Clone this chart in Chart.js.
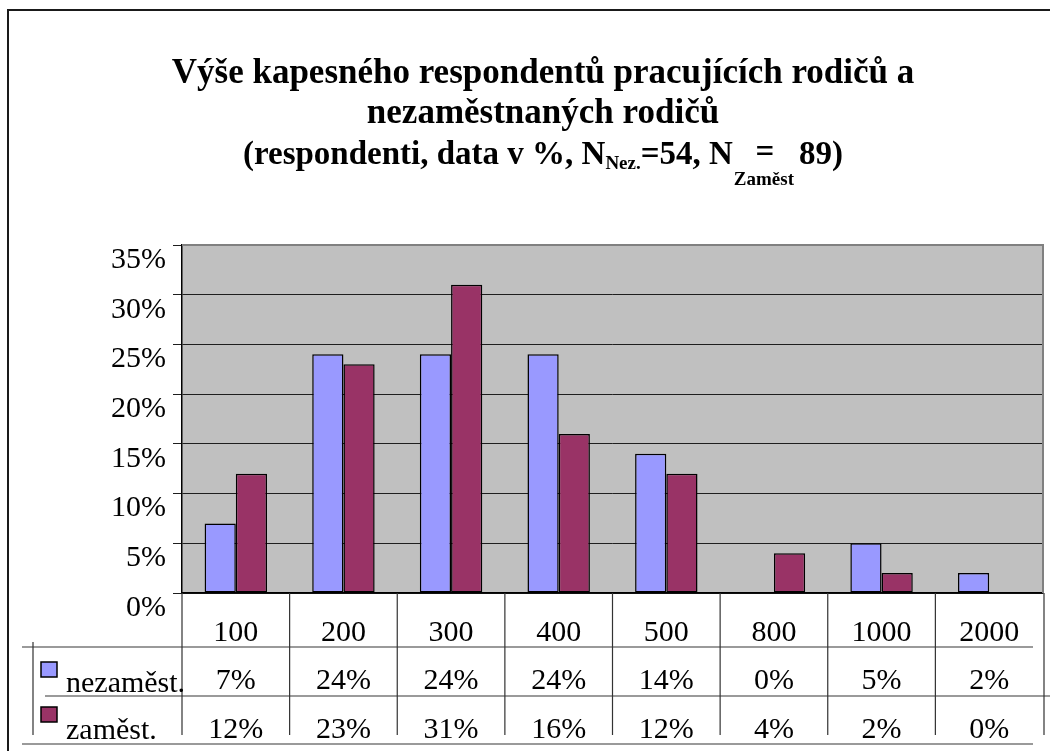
<!DOCTYPE html>
<html>
<head>
<meta charset="utf-8">
<script src="https://cdn.jsdelivr.net/npm/chart.js@4.4.1/dist/chart.umd.min.js"></script>
<style>
  html, body { margin: 0; padding: 0; background: #fff; overflow: hidden; }
  canvas { display: block; }
</style>
</head>
<body>
<canvas id="chartKapesne" width="1050" height="751"></canvas>
<script>
/* ---------- Data ---------- */
const categories = ['100', '200', '300', '400', '500', '800', '1000', '2000'];
const nezamest = [7, 24, 24, 24, 14, 0, 5, 2];     // % nezaměstnaní rodiče
const zamest   = [12, 23, 31, 16, 12, 4, 2, 0];    // % zaměstnaní rodiče
const seriesNames = ['nezaměst.', 'zaměst.'];
const yTicks = [0, 5, 10, 15, 20, 25, 30, 35];

const SERIF = "'Liberation Serif', 'Times New Roman', serif";
const COL_NEZ = '#9999ff';
const COL_ZAM = '#993366';

/* ---------- Plot background, frame and titles ---------- */
const decorPlugin = {
    id: 'decor',
    beforeDraw(chart) {
        const { ctx, chartArea: a } = chart;
        ctx.save();
        ctx.fillStyle = '#fff';
        ctx.fillRect(0, 0, chart.width, chart.height);
        // outer frame (top + left only, like the clipped original)
        ctx.strokeStyle = '#1a1a1a';
        ctx.lineWidth = 2;
        ctx.beginPath();
        ctx.moveTo(8, chart.height);
        ctx.lineTo(8, 10);
        ctx.lineTo(chart.width, 10);
        ctx.stroke();
        // grey plot area
        ctx.fillStyle = '#c0c0c0';
        ctx.fillRect(a.left, a.top, a.right - a.left, a.bottom - a.top);
        ctx.restore();
    },
    afterDraw(chart) {
        const { ctx, chartArea: a } = chart;
        const x = chart.scales.x;
        ctx.save();

        // plot border top/right
        ctx.strokeStyle = '#808080';
        ctx.lineWidth = 2;
        ctx.beginPath();
        ctx.moveTo(a.left, a.top);
        ctx.lineTo(a.right, a.top);
        ctx.lineTo(a.right, a.bottom);
        ctx.stroke();

        // data table lines
        const r1 = a.bottom + 54, r2 = a.bottom + 103, r3 = a.bottom + 151;
        ctx.strokeStyle = '#7a7a7a';
        ctx.lineWidth = 1.5;
        ctx.beginPath();
        ctx.moveTo(22, r1); ctx.lineTo(1033, r1);
        ctx.moveTo(45, r2); ctx.lineTo(chart.width, r2);
        ctx.moveTo(22, r3); ctx.lineTo(1033, r3);
        ctx.stroke();
        ctx.strokeStyle = '#333';
        ctx.lineWidth = 1.2;
        ctx.beginPath();
        ctx.moveTo(33, r1 - 5); ctx.lineTo(33, r3 - 9);
        const half = (x.getPixelForValue(1) - x.getPixelForValue(0)) / 2;
        for (let i = 0; i <= categories.length; i++) {
            const px = i < categories.length ? x.getPixelForValue(i) - half
                                             : x.getPixelForValue(i - 1) + half + 1;
            ctx.moveTo(px, a.bottom);
            ctx.lineTo(px, r3 - 9);
        }
        ctx.stroke();

        // legend keys in the table
        chart.data.datasets.forEach((ds, i) => {
            const top = r1 + 15 + i * 45;
            ctx.fillStyle = ds.backgroundColor;
            ctx.fillRect(41, top, 16, 15);
            ctx.strokeStyle = '#000';
            ctx.lineWidth = 1.5;
            ctx.strokeRect(41, top, 16, 15);
            ctx.fillStyle = '#000';
            ctx.font = '30px ' + SERIF;
            ctx.textAlign = 'left';
            ctx.textBaseline = 'alphabetic';
            ctx.fillText(ds.label, 66, r1 + 45 + i * 47);
        });

        // titles
        const cx = 543;
        ctx.fillStyle = '#000';
        ctx.textBaseline = 'alphabetic';
        ctx.textAlign = 'center';
        ctx.font = 'bold 35px ' + SERIF;
        ctx.fillText('Výše kapesného respondentů pracujících rodičů a', cx, 83);
        ctx.fillText('nezaměstnaných rodičů', cx, 123);

        const main = 'bold 33px ' + SERIF, sub = 'bold 19px ' + SERIF;
        const parts = [
            { t: '(respondenti, data v %, N', f: main, dy: 0 },
            { t: 'Nez.', f: sub, dy: 5 },
            { t: '=54, N', f: main, dy: 0 }
        ];
        ctx.textAlign = 'left';
        let total = 0;
        parts.forEach(p => { ctx.font = p.f; p.w = ctx.measureText(p.t).width; total += p.w; });
        ctx.font = sub;
        const zw = ctx.measureText('Zaměst').width;
        ctx.font = main;
        const tail = ctx.measureText('89)').width;
        total += zw + 6 + tail;
        let px = cx - total / 2;
        const base = 164;
        parts.forEach(p => { ctx.font = p.f; ctx.fillText(p.t, px, base + p.dy); px += p.w; });
        ctx.font = sub;
        ctx.fillText('Zaměst', px + 1, base + 21);
        ctx.font = main;
        ctx.textAlign = 'center';
        ctx.fillText('=', px + zw / 2 + 2, base - 2);
        ctx.textAlign = 'left';
        ctx.fillText('89)', px + zw + 6, base);

        ctx.restore();
    }
};

/* ---------- Chart ---------- */
new Chart(document.getElementById('chartKapesne'), {
    type: 'bar',
    data: {
        labels: categories,
        datasets: [{
            label: seriesNames[0],
            data: nezamest,
            backgroundColor: COL_NEZ,
            borderColor: '#000',
            borderWidth: 1.5,
            borderSkipped: false
        }, {
            label: seriesNames[1],
            data: zamest,
            backgroundColor: COL_ZAM,
            borderColor: '#000',
            borderWidth: 1.5,
            borderSkipped: false
        }]
    },
    options: {
        responsive: false,
        animation: false,
        devicePixelRatio: 1,
        barPercentage: 1.0,
        categoryPercentage: 0.58,
        layout: { padding: { top: 245, right: 7, left: 0, bottom: 0 } },
        plugins: {
            legend: { display: false },
            title: { display: false },
            tooltip: { enabled: false }
        },
        scales: {
            y: {
                min: 0, max: 35,
                afterBuildTicks: s => { s.ticks = yTicks.map(v => ({ value: v })); },
                afterFit: s => { s.width = 182; },
                ticks: {
                    callback: v => v + '%',
                    color: '#000',
                    font: { family: SERIF, size: 30 },
                    padding: 7,
                    labelOffset: 15
                },
                grid: { color: '#1e1e1e', lineWidth: 1, tickLength: 9 },
                border: { display: true, color: '#000', width: 1.5 }
            },
            x: {
                afterFit: s => { s.height = 158; },
                ticks: {
                    autoSkip: false,
                    maxRotation: 0,
                    minRotation: 0,
                    padding: 8,
                    color: '#000',
                    font: { family: SERIF, size: 30, lineHeight: 1.61 },
                    callback: (v, i) => [categories[i], nezamest[i] + '%', zamest[i] + '%']
                },
                grid: { display: false },
                border: { display: true, color: '#000', width: 1.5 }
            }
        }
    },
    plugins: [decorPlugin]
});
</script>
</body>
</html>
